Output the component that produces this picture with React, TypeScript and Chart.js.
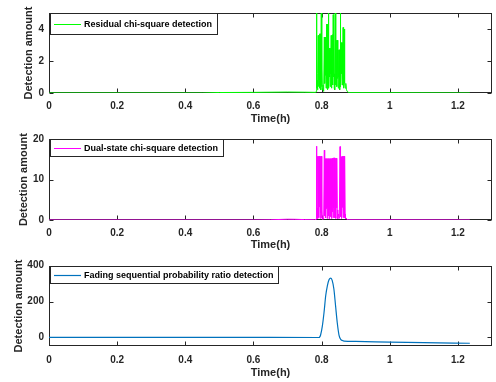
import React, { useEffect, useRef } from "react";
import { Chart, registerables } from "chart.js";

Chart.register(...registerables);

// ---------- data ----------
const xTicks = [0, 0.2, 0.4, 0.6, 0.8, 1, 1.2];
const residualTicks = [0, 2, 4];
const dualTicks = [0, 10, 20];
const fadingTicks = [0, 200, 400];

const residualLabel = "Residual chi-square detection";
const dualLabel = "Dual-state chi-square detection";
const fadingLabel = "Fading sequential probability ratio detection";
const xTitle = "Time(h)";
const yTitle = "Detection amount";

const residualTime = [
  0, 0.45, 0.5, 0.6, 0.7, 0.75, 0.783,
  0.784, 0.785, 0.786, 0.787, 0.788, 0.789, 0.79, 0.791, 0.792, 0.793, 0.794, 0.795, 0.796, 0.797, 0.798, 0.799,
  0.8, 0.801, 0.802, 0.804, 0.806, 0.808, 0.809, 0.81, 0.811, 0.812, 0.813, 0.814, 0.815, 0.816, 0.817, 0.818, 0.819,
  0.82, 0.821, 0.822, 0.823, 0.824, 0.825, 0.826, 0.827, 0.828, 0.829, 0.83, 0.831, 0.832, 0.833, 0.834, 0.835, 0.836,
  0.837, 0.838, 0.839, 0.84, 0.841, 0.842, 0.843, 0.844, 0.845, 0.846, 0.847, 0.848, 0.849, 0.85, 0.851, 0.852, 0.853,
  0.854, 0.855, 0.856, 0.857, 0.858, 0.859, 0.86, 0.861, 0.862, 0.863, 0.864, 0.865, 0.866, 0.867, 0.868, 0.869,
  0.871, 0.873, 0.875, 0.88, 1.235,
];
const residualValue = [
  0, 0, 0.03, 0.04, 0.06, 0.05, 0.04,
  0.1, 6, 0.3, 0.8, 0.2, 1.2, 3.6, 0.4, 3.6, 1.0, 3.7, 0.3, 3.7, 0.8, 0.2, 6,
  0.4, 1.5, 0.2, 0.5, 0.1, 3.5, 0.6, 3.5, 1.1, 3.5, 0.3, 4.3, 0.9, 4.3, 0.2, 4.3, 0.7,
  6, 0.3, 2.8, 1.0, 2.8, 0.4, 2.8, 1.2, 3.6, 0.3, 3.6, 0.8, 3.65, 0.5, 4.9, 1.0, 4.9,
  0.3, 1.2, 0.2, 6, 0.5, 3.3, 1.1, 3.3, 0.4, 3.3, 0.9, 2.7, 0.3, 2.7, 1.0, 2.7, 0.2,
  0.8, 6, 0.4, 3.15, 1.2, 3.15, 0.5, 3.15, 0.9, 4.1, 0.3, 4.0, 1.1, 4.0, 0.6, 0.3,
  0.6, 0.2, 0.1, 0.02, 0,
];

const dualTime = [
  0, 0.6, 0.65, 0.7, 0.72, 0.75, 0.78,
  0.784, 0.785, 0.786, 0.787, 0.788, 0.789, 0.79, 0.791, 0.792, 0.793, 0.794, 0.795, 0.796, 0.797, 0.798, 0.799,
  0.8, 0.801, 0.802, 0.804, 0.806, 0.808, 0.809, 0.81, 0.811, 0.812, 0.813, 0.814, 0.815, 0.816, 0.817, 0.818, 0.819,
  0.82, 0.821, 0.822, 0.823, 0.824, 0.825, 0.826, 0.827, 0.828, 0.829, 0.83, 0.831, 0.832, 0.833, 0.834, 0.835, 0.836,
  0.837, 0.838, 0.839, 0.84, 0.841, 0.842, 0.843, 0.844, 0.845, 0.846, 0.847, 0.848, 0.85, 0.852,
  0.854, 0.855, 0.856, 0.857, 0.858, 0.859, 0.86, 0.861, 0.862, 0.863, 0.864, 0.865, 0.866, 0.867, 0.868, 0.869,
  0.87, 0.872, 0.875, 0.88, 1.235,
];
const dualValue = [
  0, 0, 0.05, 0.2, 0.18, 0.1, 0.05,
  0.2, 18.3, 0.5, 3.0, 0.3, 15.8, 2.0, 15.8, 0.6, 15.8, 3.2, 15.8, 0.4, 15.8, 1.8, 15.8,
  0.5, 2.5, 0.2, 0.5, 0.2, 17.3, 1.0, 3.0, 15.2, 0.5, 15.2, 2.8, 15.2, 0.4, 15.2, 3.1, 15.2,
  1.0, 15.2, 0.3, 15.2, 2.5, 15.2, 0.8, 15.2, 3.2, 15.2, 0.4, 15.3, 2.0, 15.3, 0.6, 15.4, 3.0,
  15.4, 0.5, 15.4, 2.2, 15.3, 0.4, 15.3, 3.0, 15.3, 0.7, 2.5, 0.3, 1.5, 0.4,
  18.2, 0.8, 15.7, 2.5, 15.7, 0.4, 15.7, 3.1, 15.8, 0.6, 15.8, 2.2, 15.8, 0.5, 15.8, 1.5,
  0.3, 0.5, 0.1, 0.05, 0,
];

const fadingTime = [
  0, 0.5, 0.79, 0.7925, 0.795, 0.797, 0.802, 0.807, 0.812, 0.817, 0.822, 0.827, 0.831,
  0.836, 0.841, 0.846, 0.851, 0.856, 0.861, 0.866, 0.9, 1.0, 1.1, 1.235,
];
const fadingValue = [
  0, 0, -1, -1, 4, 13, 61, 137, 232, 289, 323, 331, 318,
  270, 175, 80, 13, -11, -18, -21, -23, -27, -30, -33,
];

// ---------- plugins ----------
const AXIS_COLOR = "#262626";
const FONT = '"Liberation Sans", Arial, Helvetica, sans-serif';

const matlabAxes = {
  id: "matlabAxes",
  beforeDatasetsDraw(chart: any) {
    const { ctx, chartArea: a, scales } = chart;
    const L = Math.round(a.left) + 0.5;
    const R = Math.round(a.right) - 0.5;
    const T = Math.round(a.top) + 0.5;
    const B = Math.round(a.bottom) - 0.5;
    ctx.save();
    ctx.strokeStyle = AXIS_COLOR;
    ctx.lineWidth = 1;
    ctx.strokeRect(L, T, R - L, B - T);
    const len = 4;
    ctx.beginPath();
    scales.x.ticks.forEach((t: any) => {
      const px = Math.round(scales.x.getPixelForValue(t.value)) + 0.5;
      ctx.moveTo(px, B);
      ctx.lineTo(px, B - len);
      ctx.moveTo(px, T);
      ctx.lineTo(px, T + len);
    });
    scales.y.ticks.forEach((t: any) => {
      const py = Math.round(scales.y.getPixelForValue(t.value)) + 0.5;
      ctx.moveTo(L, py);
      ctx.lineTo(L + len, py);
      ctx.moveTo(R, py);
      ctx.lineTo(R - len, py);
    });
    ctx.stroke();
    ctx.restore();
  },
};

const boxLegend = {
  id: "boxLegend",
  afterDatasetsDraw(chart: any, _args: any, opts: any) {
    const { ctx, chartArea: a } = chart;
    ctx.save();
    ctx.font = `bold 9px ${FONT}`;
    const tw = ctx.measureText(opts.label).width;
    const x = Math.round(a.left) + 1.5;
    const y = Math.round(a.top) + 0.5;
    const w = Math.round(34 + tw + 4.5);
    const h = opts.height;
    ctx.fillStyle = "#ffffff";
    ctx.fillRect(x, y, w, h);
    ctx.strokeStyle = AXIS_COLOR;
    ctx.lineWidth = 1;
    ctx.strokeRect(x, y, w, h);
    const cy = Math.round(y + h / 2) + 0.5;
    ctx.strokeStyle = opts.color;
    ctx.lineWidth = opts.lineWidth;
    ctx.beginPath();
    ctx.moveTo(x + 3.5, cy);
    ctx.lineTo(x + 30.5, cy);
    ctx.stroke();
    ctx.fillStyle = "#000000";
    ctx.textBaseline = "middle";
    ctx.textAlign = "left";
    ctx.fillText(opts.label, x + 33.5, cy + 0.5);
    ctx.restore();
  },
};

// ---------- chart factory ----------
type PlotSpec = {
  times: number[];
  values: number[];
  color: string;
  lineWidth: number;
  yMin: number;
  yMax: number;
  yTicks: number[];
  label: string;
  legendH: number;
  padTop: number;
  xAxisH: number;
  yTitlePad: number;
  xTitlePad: number;
  xTickPad: number;
  smooth: boolean;
};

function makeChart(canvas: HTMLCanvasElement, p: PlotSpec) {
  const data = p.times.map((t, i) => ({ x: t, y: p.values[i] }));
  return new Chart(canvas, {
    type: "line",
    data: {
      datasets: [
        {
          label: p.label,
          data,
          borderColor: p.color,
          backgroundColor: p.color,
          borderWidth: p.lineWidth,
          pointRadius: 0,
          fill: false,
          cubicInterpolationMode: p.smooth ? "monotone" : "default",
          tension: 0,
        },
      ],
    },
    options: {
      responsive: false,
      animation: false,
      events: [],
      layout: { padding: { top: p.padTop, right: 4, left: 0, bottom: 0 } },
      plugins: {
        legend: { display: false },
        tooltip: { enabled: false },
        boxLegend: { label: p.label, color: p.color, lineWidth: p.lineWidth, height: p.legendH },
      } as any,
      scales: {
        x: {
          type: "linear",
          min: 0,
          max: 1.3,
          afterBuildTicks: (s: any) => {
            s.ticks = xTicks.map((v) => ({ value: v }));
          },
          afterFit: (s: any) => {
            s.height = p.xAxisH;
          },
          grid: { display: false, drawTicks: false },
          border: { display: false },
          ticks: {
            color: AXIS_COLOR,
            font: { family: FONT, size: 10, weight: "bold" },
            padding: p.xTickPad,
            maxRotation: 0,
            autoSkip: false,
            callback: (v: any) => String(Math.round(Number(v) * 10) / 10),
          },
          title: {
            display: true,
            text: xTitle,
            color: AXIS_COLOR,
            font: { family: FONT, size: 11, weight: "bold" },
            padding: { top: 0, bottom: p.xTitlePad },
          },
        },
        y: {
          type: "linear",
          min: p.yMin,
          max: p.yMax,
          afterBuildTicks: (s: any) => {
            s.ticks = p.yTicks.map((v) => ({ value: v }));
          },
          afterFit: (s: any) => {
            s.width = 49;
          },
          grid: { display: false, drawTicks: false },
          border: { display: false },
          ticks: {
            color: AXIS_COLOR,
            font: { family: FONT, size: 10, weight: "bold" },
            padding: 5,
            autoSkip: false,
            callback: (v: any) => String(v),
          },
          title: {
            display: true,
            text: yTitle,
            color: AXIS_COLOR,
            font: { family: FONT, size: 11, weight: "bold" },
            padding: { top: p.yTitlePad, bottom: 0 },
          },
        },
      },
    } as any,
    plugins: [matlabAxes, boxLegend],
  });
}

const plots: (PlotSpec & { top: number; height: number })[] = [
  {
    top: 0, height: 126,
    times: residualTime, values: residualValue, color: "#00ff00", lineWidth: 1,
    yMin: 0, yMax: 5, yTicks: residualTicks, label: residualLabel, legendH: 21,
    padTop: 13, xAxisH: 33, yTitlePad: 22.4, xTitlePad: 0, xTickPad: 7, smooth: false,
  },
  {
    top: 126, height: 126,
    times: dualTime, values: dualValue, color: "#ff00ff", lineWidth: 1,
    yMin: 0, yMax: 20, yTicks: dualTicks, label: dualLabel, legendH: 17,
    padTop: 13.3, xAxisH: 32, yTitlePad: 17.1, xTitlePad: 0, xTickPad: 7, smooth: false,
  },
  {
    top: 252, height: 130,
    times: fadingTime, values: fadingValue, color: "#0072bd", lineWidth: 1.2,
    yMin: -50, yMax: 400, yTicks: fadingTicks, label: fadingLabel, legendH: 17,
    padTop: 13.7, xAxisH: 35.7, yTitlePad: 12.4, xTitlePad: 2.7, xTickPad: 8, smooth: true,
  },
];

export default function App() {
  const refs = [useRef<HTMLCanvasElement>(null), useRef<HTMLCanvasElement>(null), useRef<HTMLCanvasElement>(null)];

  useEffect(() => {
    document.body.style.margin = "0";
    document.body.style.background = "#ffffff";
    const charts = plots.map((p, i) => makeChart(refs[i].current as HTMLCanvasElement, p));
    return () => charts.forEach((c) => c.destroy());
  }, []);

  return (
    <div style={{ position: "relative", width: 496, height: 382, background: "#fff", overflow: "hidden" }}>
      {plots.map((p, i) => (
        <canvas
          key={i}
          ref={refs[i]}
          width={496}
          height={p.height}
          style={{ position: "absolute", left: 0, top: p.top, width: 496, height: p.height }}
        />
      ))}
    </div>
  );
}
